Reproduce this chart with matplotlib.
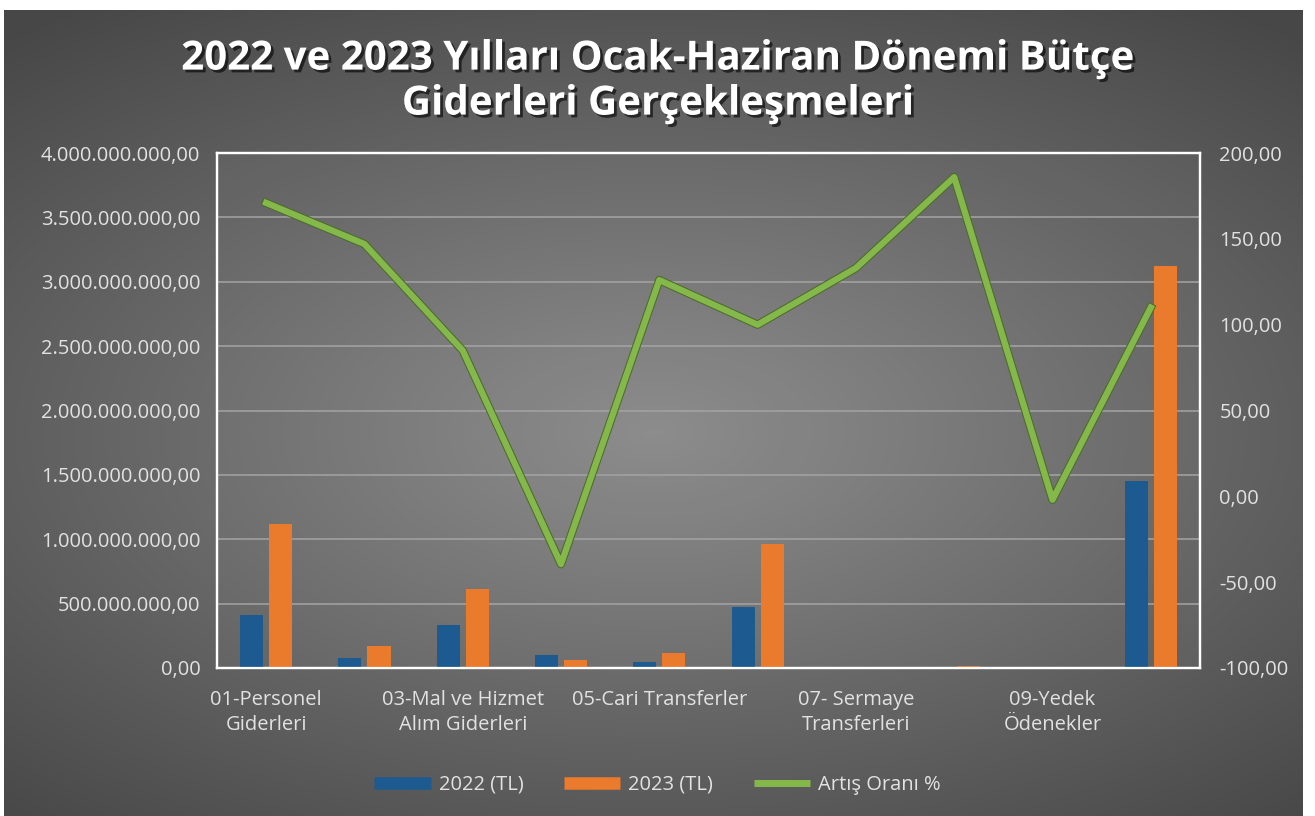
import matplotlib
matplotlib.use("Agg")
import matplotlib.pyplot as plt
import matplotlib.patheffects as pe
from matplotlib.lines import Line2D
import numpy as np

plt.rcParams["font.family"] = ["Open Sans", "DejaVu Sans"]

# ---------- data ----------
categories = [
    "01-Personel\nGiderleri",
    "02-SGK Devlet Primi\nGiderleri",
    "03-Mal ve Hizmet\nAlım Giderleri",
    "04-Faiz Giderleri",
    "05-Cari Transferler",
    "06-Sermaye Giderleri",
    "07- Sermaye\nTransferleri",
    "08-Borç Verme",
    "09-Yedek\nÖdenekler",
    "Toplam",
]
y2022 = [0.41e9, 0.08e9, 0.33e9, 0.10e9, 0.05e9, 0.47e9, 0.0, 0.003e9, 0.0, 1.45e9]
y2023 = [1.12e9, 0.17e9, 0.61e9, 0.06e9, 0.12e9, 0.96e9, 0.0, 0.015e9, 0.0, 3.12e9]
artis = [171, 147, 85, -39.5, 126, 100, 133, 186, -2, 110]

left_ticks = np.arange(0, 4.0e9 + 1, 0.5e9)
right_ticks = np.arange(-100, 201, 50)

C_BLUE = "#1d5a90"
C_ORANGE = "#ea7a2c"
C_GREEN = "#84b84a"
C_TEXT = "#e2e2e2"
FS = 14.5


def tr_num(v):
    s = f"{v:,.2f}"
    return s.replace(",", "X").replace(".", ",").replace("X", ".")


fig = plt.figure(figsize=(13.15, 8.16), dpi=100, facecolor="white")

# background gradient (dark edges, lighter centre)
bg = fig.add_axes([4 / 1315, 0, 1299 / 1315, 1 - 10 / 816])
yy, xx = np.mgrid[-1:1:300j, -1:1:400j]
r = np.sqrt((xx * 0.85) ** 2 + ((yy - 0.05) * 1.0) ** 2)
shade = 0.54 - 0.2 * np.clip(r, 0, 1.3)
img = np.dstack([shade, shade, shade])
bg.imshow(img, aspect="auto", extent=[0, 1, 0, 1], interpolation="bilinear")
bg.set_axis_off()

ax = fig.add_axes([0.165, 0.1814, 0.7475, 0.631])
ax.set_facecolor((1, 1, 1, 0.03))
x = np.arange(len(categories))
w = 0.235
off = 0.148
ax.bar(x - off, y2022, width=w, color=C_BLUE, zorder=3, label="2022 (TL)")
ax.bar(x + off, y2023, width=w, color=C_ORANGE, zorder=3, label="2023 (TL)")

ax.set_xlim(-0.5, len(categories) - 0.5)
ax.set_ylim(0, 4.0e9)
ax.set_yticks(left_ticks)
ax.set_yticklabels([tr_num(v) for v in left_ticks])
ax.yaxis.grid(True, color="#a4a4a4", linewidth=1.1, zorder=0)
ax.set_axisbelow(True)
ax.set_xticks(x[::2])
ax.set_xticklabels(categories[::2], multialignment="center", linespacing=1.3)
ax.tick_params(axis="both", length=0, colors=C_TEXT, labelsize=FS)
ax.tick_params(axis="x", pad=16)
ax.tick_params(axis="y", pad=12)
for sp in ax.spines.values():
    sp.set_color("white")
    sp.set_linewidth(1.6)

ax2 = ax.twinx()
ax2.plot(x, artis, color=C_GREEN, linewidth=4.5, zorder=4,
         path_effects=[pe.Stroke(linewidth=6, foreground="#4d6b2c"), pe.Normal()])
ax2.set_ylim(-100, 200)
ax2.set_yticks(right_ticks)
ax2.set_yticklabels([tr_num(v) for v in right_ticks])
ax2.tick_params(axis="y", length=0, colors=C_TEXT, labelsize=FS, pad=14)
for sp in ax2.spines.values():
    sp.set_color("white")
    sp.set_linewidth(1.6)

fig.text(0.5, 0.9, "2022 ve 2023 Yılları Ocak-Haziran Dönemi Bütçe\nGiderleri Gerçekleşmeleri",
         ha="center", va="center", color="white", fontsize=29, fontweight="bold",
         linespacing=1.2,
         path_effects=[pe.withSimplePatchShadow(offset=(2, -2), shadow_rgbFace="black", alpha=0.6)])

handles = [
    Line2D([], [], color=C_BLUE, linewidth=9, solid_capstyle="butt"),
    Line2D([], [], color=C_ORANGE, linewidth=9, solid_capstyle="butt"),
    Line2D([], [], color=C_GREEN, linewidth=5, solid_capstyle="butt"),
]
leg = fig.legend(handles, ["2022 (TL)", "2023 (TL)", "Artış Oranı %"], loc="center",
                 bbox_to_anchor=(0.5, 0.038), ncol=3, frameon=False, fontsize=FS,
                 handlelength=2.8, handletextpad=0.4, columnspacing=2.0)
for t in leg.get_texts():
    t.set_color(C_TEXT)

fig.savefig("out.png", dpi=100, facecolor="white")
